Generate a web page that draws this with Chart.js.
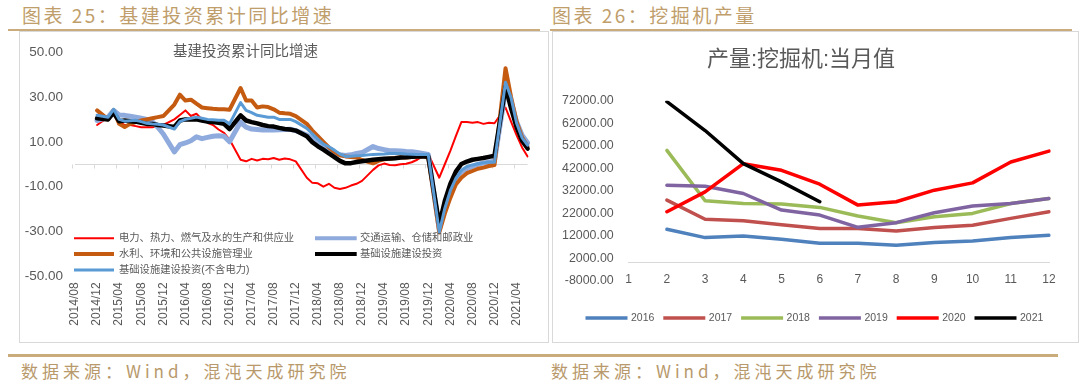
<!DOCTYPE html>
<html>
<head>
<meta charset="utf-8">
<script src="https://cdn.jsdelivr.net/npm/chart.js@4.4.0/dist/chart.umd.min.js"></script>
<style>
  html, body { margin: 0; padding: 0; background: #fff; }
  body { width: 1080px; height: 382px; position: relative; overflow: hidden; font-family: "Noto Sans CJK SC", sans-serif; }
  .hdr { position: absolute; top: 4px; line-height: 22px; font-size: 19px; letter-spacing: 2.5px; color: #BF9E6B; white-space: nowrap; }
  .rule { position: absolute; background: #C9AB7C; }
  .panel { position: absolute; top: 31px; border: 1px solid #D9D9D9; background: #fff; }
  .panel canvas { display: block; }
  .src { position: absolute; top: 361px; line-height: 20px; font-size: 17px; letter-spacing: 4px; color: #B8996B; white-space: nowrap; }
</style>
</head>
<body>
<div class="hdr" style="left:22px">图表 25：基建投资累计同比增速</div>
<div class="hdr" style="left:552px">图表 26：挖掘机产量</div>
<div class="rule" style="left:8px; top:29px; width:532px; height:2px"></div>
<div class="rule" style="left:550px; top:29px; width:522px; height:2px"></div>

<div class="panel" style="left:19px; width:528px; height:310px"><canvas id="infra" width="528" height="310"></canvas></div>
<div class="panel" style="left:552px; width:525px; height:310px"><canvas id="digger" width="525" height="310"></canvas></div>

<div class="rule" style="left:8px; top:354px; width:1050px; height:3px"></div>
<div class="src" style="left:21px">数据来源：Wind，混沌天成研究院</div>
<div class="src" style="left:551px">数据来源：Wind，混沌天成研究院</div>

<script>
// left chart: monthly categories 2014/08 .. 2021/06, January values not published (null)
const monthLabels = [
  '2014/08', '2014/09', '2014/10', '2014/11', '2014/12',
  '2015/01', '2015/02', '2015/03', '2015/04', '2015/05', '2015/06', '2015/07', '2015/08', '2015/09', '2015/10', '2015/11', '2015/12',
  '2016/01', '2016/02', '2016/03', '2016/04', '2016/05', '2016/06', '2016/07', '2016/08', '2016/09', '2016/10', '2016/11', '2016/12',
  '2017/01', '2017/02', '2017/03', '2017/04', '2017/05', '2017/06', '2017/07', '2017/08', '2017/09', '2017/10', '2017/11', '2017/12',
  '2018/01', '2018/02', '2018/03', '2018/04', '2018/05', '2018/06', '2018/07', '2018/08', '2018/09', '2018/10', '2018/11', '2018/12',
  '2019/01', '2019/02', '2019/03', '2019/04', '2019/05', '2019/06', '2019/07', '2019/08', '2019/09', '2019/10', '2019/11', '2019/12',
  '2020/01', '2020/02', '2020/03', '2020/04', '2020/05', '2020/06', '2020/07', '2020/08', '2020/09', '2020/10', '2020/11', '2020/12',
  '2021/01', '2021/02', '2021/03', '2021/04', '2021/05', '2021/06'
];

const powerUtil = [
  null, null, null, null, 17.5,
  null, 21, 23, 19, 17.5, 17.5, 17, 16.5, 16.5, 16.5, 17, 17.5,
  null, 20, 22, 24, 21.5, 22.5, 20, 18.5, 17.5, 15.5, 14, 11,
  null, 2, 1.3, 2.4, 1.7, 2.4, 2.2, 2.8, 2, 2.6, 2.2, 1.3,
  null, -6, -8.3, -8.5, -10, -8.7, -10.5, -11, -10.5, -9.5, -8.7, -7.4,
  null, -2.5, -0.5, 0.3, -0.3, -0.4, 0, 0.2, 0.9, 2, 3.5, 4.6,
  null, -6, 0, 6, 12.5, 18.8, 18.8, 18.5, 18.8, 18, 18.5, 18.3,
  null, 25.3, 19, 13, 7.5, 3.5
];
const transport = [
  null, null, null, null, 19.5,
  null, 21, 24, 22, 21.8, 21.4, 21, 20.5, 20, 19, 16.5, 13.5,
  null, 5.5, 8.7, 9.5, 10.5, 12.2, 11.4, 12, 12.5, 12.7, 12.5, 10,
  null, 18.8, 16.5, 15.7, 15.5, 15.3, 15.3, 15.3, 15.4, 15.5, 15.6, 15,
  null, 13, 11.5, 10, 8.5, 6.5, 5, 4.3, 3.9, 4.2, 4.8, 5.2,
  null, 7.9, 7, 6.5, 6, 6, 5.9, 5.7, 5.6, 5.2, 4.8, 4.4,
  null, -29.1, -18, -11, -6, -3.5, -2, -1, 0, 0.5, 1, 1.4,
  null, 33, 28, 19, 13, 9.5
];
const waterEnv = [
  null, null, null, null, 24,
  null, 20, 24, 18, 16.6, 18, 18.8, 19.5, 20, 20.5, 21, 21.5,
  null, 26.6, 31, 28.4, 28.8, 27, 25.3, 25, 24.7, 24.5, 24.5, 24.3,
  null, 34, 28.4, 28.4, 25.3, 25.8, 25.5, 24.5, 23, 22.7, 22.5, 21.5,
  null, 18, 15, 12.5, 10, 7.5, 5.5, 4, 3.5, 3.2, 3, 1.9,
  null, 0.4, 1.5, 2.2, 2.5, 2.8, 3, 3, 3.2, 3.3, 3.6, 2.9,
  null, -30.4, -22, -15, -9, -6, -4, -3, -2, -1.5, -0.8, -0.3,
  null, 42.8, 30, 19, 12, 8
];
const infraAll = [
  null, null, null, null, 20.5,
  null, 20, 23, 19.2, 19.5, 19.2, 19, 18.5, 18, 18, 17.5, 17.3,
  null, 16.6, 19.5, 20, 20, 20, 19.5, 19, 18.8, 18.5, 18, 15.7,
  null, 21.8, 19.5, 18.8, 18.2, 17.5, 17, 16.8, 16.2, 15.7, 15.5, 15,
  null, 12.5, 9.8, 8, 6.5, 4.8, 3.2, 1.5, 0.4, 0.5, 1, 1.3,
  null, 2, 2.2, 2.4, 2.6, 2.7, 3, 3.1, 3.3, 3.4, 3.5, 3.5,
  null, -26.9, -16.4, -8.8, -3.3, 0.1, 1.2, 2, 2.4, 2.8, 3.3, 3.8,
  null, 34.5, 25, 16.5, 10.5, 7
];
const infraExPower = [
  null, null, null, null, 21.8,
  null, 21, 24.5, 20, 19.2, 19.4, 19.6, 19, 18.3, 18, 17.8, 17.5,
  null, 15.7, 19, 20, 20.5, 21, 20.5, 20, 19.8, 19.6, 19.6, 18,
  null, 27.5, 24, 23, 21.8, 21.4, 21, 21, 20, 20, 20, 19,
  null, 16, 13.5, 11.2, 9, 7.8, 6.3, 4.5, 3.5, 3.6, 3.8, 3.9,
  null, 4.4, 4.5, 4.6, 4.8, 4.8, 4.8, 4.6, 4.5, 4.4, 4.4, 4.3,
  null, -30.3, -19.7, -11.8, -6.3, -2.7, -1, -0.3, 0.2, 0.7, 1, 0.9,
  null, 36.6, 29.7, 18.4, 11.8, 8.5
];

// right chart: excavator output by calendar month, one line per year
const monthNums = ['1', '2', '3', '4', '5', '6', '7', '8', '9', '10', '11', '12'];
const out2016 = [null, 14960, 11260, 12000, 10520, 8740, 8740, 7850, 9040, 9780, 11260, 12300];
const out2017 = [null, 27880, 19400, 18700, 17000, 15300, 15260, 14220, 15700, 16740, 19790, 22740];
const out2018 = [null, 49940, 27590, 26410, 26120, 24650, 20820, 17880, 20530, 22000, 26410, 28620];
const out2019 = [null, 34500, 34060, 30820, 23470, 21260, 15820, 17880, 22290, 25240, 26410, 28620];
const out2020 = [null, 22740, 31560, 44060, 41120, 34940, 25680, 27150, 32290, 35530, 44790, 49650];
const out2021 = [null, 71560, 58760, 44060, 35970, 27150, null, null, null, null, null, null];

const TEXT = '#595959';
Chart.defaults.font.family = '"Liberation Sans", "Noto Sans CJK SC", sans-serif';
Chart.defaults.color = TEXT;

const line = (label, data, color, width, order) => ({
  label, data, order,
  borderColor: color, backgroundColor: color, borderWidth: width,
  pointRadius: 0, pointHoverRadius: 0, tension: 0, fill: false, spanGaps: true,
  borderJoinStyle: 'round', borderCapStyle: 'round',
});

// draws the legend as short thick line samples at fixed spots
function drawLineLegend(ctx, datasets, spots, fontSize) {
  ctx.save();
  ctx.font = `${fontSize}px "Liberation Sans", "Noto Sans CJK SC", sans-serif`;
  ctx.textBaseline = 'middle';
  ctx.fillStyle = TEXT;
  datasets.forEach((ds, i) => {
    const s = spots[i];
    ctx.strokeStyle = ds.borderColor;
    ctx.lineWidth = Math.min(ds.borderWidth, 4);
    ctx.beginPath();
    ctx.moveTo(s.x, s.y);
    ctx.lineTo(s.x + s.len, s.y);
    ctx.stroke();
    ctx.fillText(ds.label, s.x + s.len + s.gap, s.y);
  });
  ctx.restore();
}

// x axis crossing at zero, with a tick every 4 categories
const zeroAxis = {
  id: 'zeroAxis',
  beforeDatasetsDraw(chart) {
    const { ctx, chartArea, scales: { x, y } } = chart;
    const y0 = Math.round(y.getPixelForValue(0)) + 0.5;
    const half = (x.getPixelForValue(1) - x.getPixelForValue(0)) / 2;
    ctx.save();
    ctx.strokeStyle = '#D9D9D9';
    ctx.lineWidth = 1;
    ctx.beginPath();
    ctx.moveTo(chartArea.left, y0);
    ctx.lineTo(chartArea.right, y0);
    for (let i = 0; i < monthLabels.length; i += 4) {
      const tx = Math.round(x.getPixelForValue(i) - half) + 0.5;
      ctx.moveTo(tx, y0);
      ctx.lineTo(tx, y0 + 4);
    }
    ctx.stroke();
    ctx.restore();
  }
};

const infraOverlay = {
  id: 'infraOverlay',
  afterDraw(chart) {
    const { ctx } = chart;
    ctx.save();
    ctx.font = '14.5px "Noto Sans CJK SC", sans-serif';
    ctx.fillStyle = TEXT;
    ctx.textAlign = 'center';
    ctx.textBaseline = 'middle';
    ctx.fillText('基建投资累计同比增速', 225.5, 18.7);
    ctx.restore();
    const col1 = { len: 40, gap: 5 };
    drawLineLegend(ctx, chart.data.datasets, [
      { ...col1, x: 54, y: 206.3 },
      { ...col1, x: 295, y: 206.3, len: 41.7, gap: 3.3 },
      { ...col1, x: 54, y: 222 },
      { ...col1, x: 295, y: 222, len: 41.7, gap: 3.3 },
      { ...col1, x: 54, y: 238 },
    ], 10.3);
  }
};

new Chart(document.getElementById('infra'), {
  type: 'line',
  data: {
    labels: monthLabels,
    datasets: [
      line('电力、热力、燃气及水的生产和供应业', powerUtil, '#FF0000', 2, 5),
      line('交通运输、仓储和邮政业', transport, '#8FAADC', 5, 4),
      line('水利、环境和公共设施管理业', waterEnv, '#C55A11', 4, 3),
      line('基础设施建设投资', infraAll, '#000000', 4.5, 2),
      line('基础设施建设投资(不含电力)', infraExPower, '#5B9BD5', 3, 1),
    ]
  },
  options: {
    responsive: false,
    devicePixelRatio: 1,
    animation: false,
    layout: { padding: { left: 0, right: 12.3, top: 16.4, bottom: 0 } },
    plugins: { legend: { display: false }, tooltip: { enabled: false } },
    scales: {
      x: {
        grid: { display: false, drawTicks: false },
        border: { display: false },
        ticks: {
          autoSkip: false, minRotation: 90, maxRotation: 90, padding: 6,
          font: { size: 12 }, color: TEXT,
          callback: (v, i) => (i % 4 === 0 ? monthLabels[i] : ''),
        },
        afterFit: (s) => { s.height = 65.6; },
      },
      y: {
        min: -50, max: 50,
        grid: { display: false, drawTicks: false },
        border: { display: false },
        ticks: { stepSize: 20, padding: 12, font: { size: 13.5 }, color: TEXT, callback: (v) => v.toFixed(2) },
        afterFit: (s) => { s.width = 55; },
      }
    }
  },
  plugins: [zeroAxis, infraOverlay]
});

const diggerLegend = {
  id: 'diggerLegend',
  afterDraw(chart) {
    const spots = chart.data.datasets.map((ds, i) => ({ x: 32.5 + i * 77.8, y: 286, len: 42, gap: 3.5 }));
    drawLineLegend(chart.ctx, chart.data.datasets, spots, 10.5);
  }
};

new Chart(document.getElementById('digger'), {
  type: 'line',
  data: {
    labels: monthNums,
    datasets: [
      line('2016', out2016, '#4F81BD', 3.5, 6),
      line('2017', out2017, '#C0504D', 3.5, 5),
      line('2018', out2018, '#9BBB59', 3.5, 4),
      line('2019', out2019, '#8064A2', 3.5, 3),
      line('2020', out2020, '#FF0000', 3.5, 2),
      line('2021', out2021, '#000000', 3.5, 1),
    ]
  },
  options: {
    responsive: false,
    devicePixelRatio: 1,
    animation: false,
    layout: { padding: { left: 0, right: 29, top: 0, bottom: 61 } },
    plugins: {
      legend: { display: false },
      tooltip: { enabled: false },
      title: {
        display: true,
        text: '产量:挖掘机:当月值',
        color: TEXT,
        font: { size: 22, weight: 'normal', lineHeight: 1.2 },
        padding: { top: 15, bottom: 27.3 },
      }
    },
    scales: {
      x: {
        position: { y: 0 },
        grid: { display: false, drawTicks: false },
        border: { display: true, color: '#D9D9D9', width: 1 },
        ticks: { padding: 10, font: { size: 12 }, color: TEXT },
      },
      y: {
        min: -8000, max: 72000,
        grid: { display: false, drawTicks: false },
        border: { display: false },
        ticks: { stepSize: 10000, padding: 15, font: { size: 12.4 }, color: TEXT, callback: (v) => v.toFixed(2) },
        afterFit: (s) => { s.width = 75.7; },
      }
    }
  },
  plugins: [diggerLegend]
});
</script>
</body>
</html>
